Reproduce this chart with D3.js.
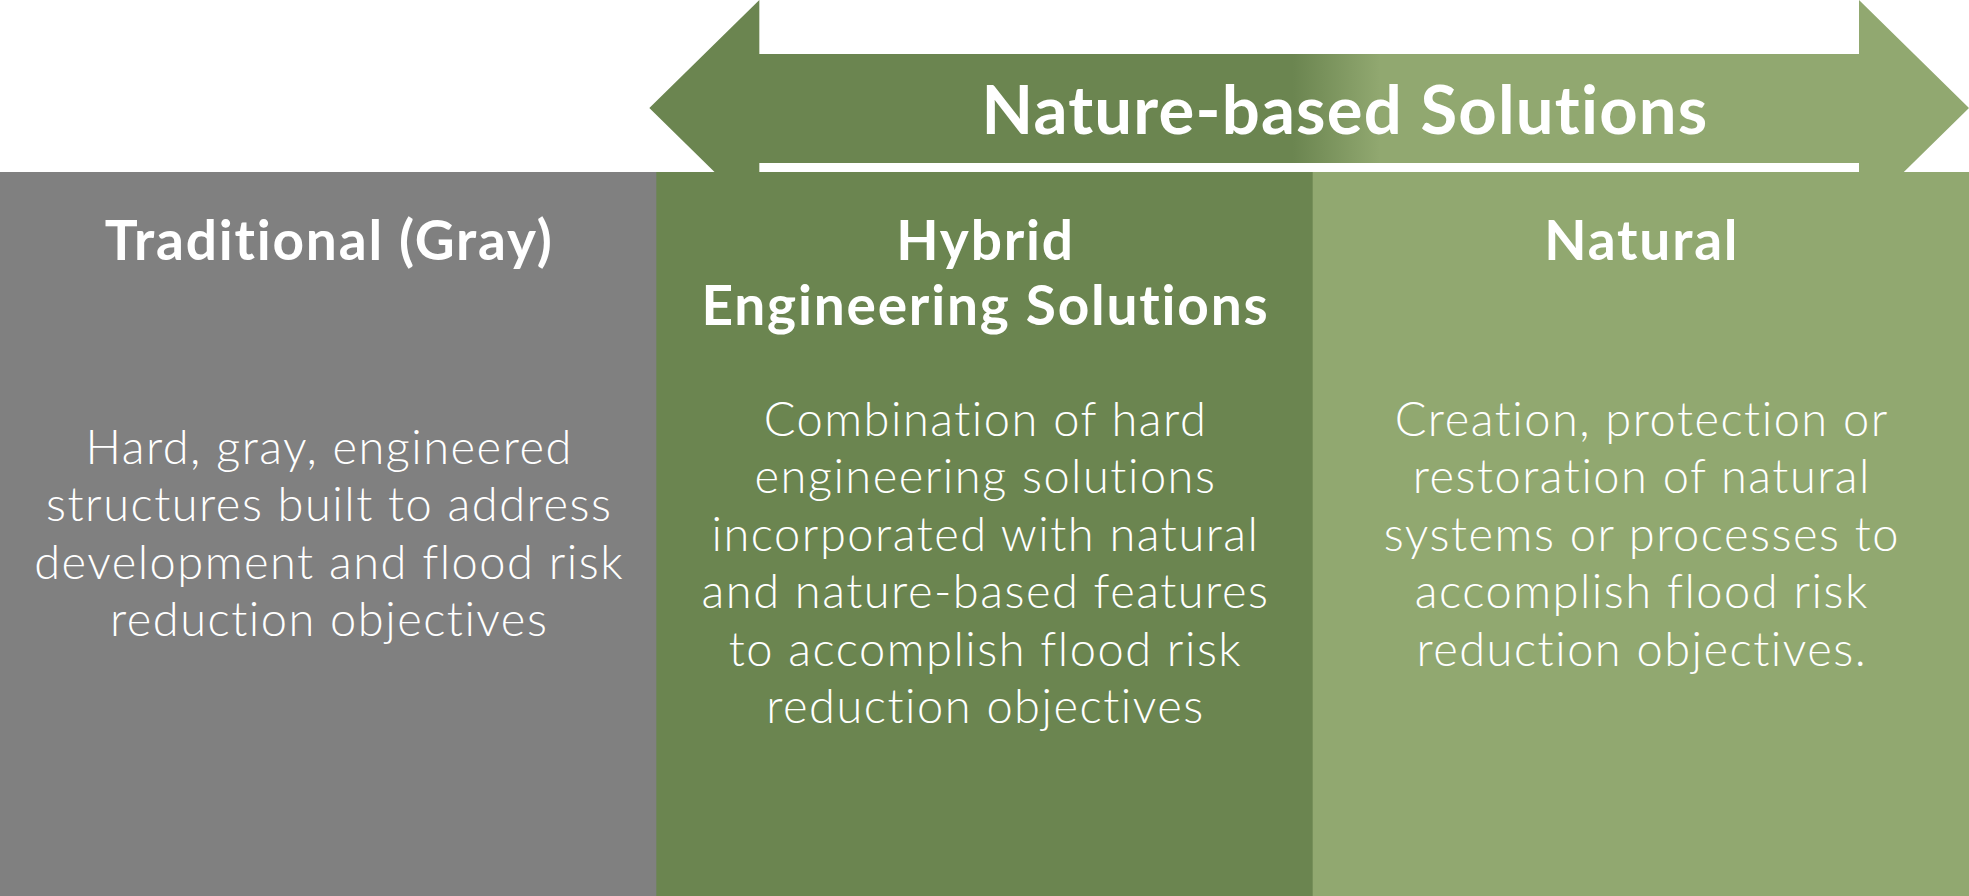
<!DOCTYPE html>
<html>
<head>
<meta charset="utf-8">
<script src="https://cdn.jsdelivr.net/npm/d3@7"></script>
<style>
    html, body { margin: 0; padding: 0; background: #fff; }
    svg { display: block; }
    text { font-variant-ligatures: none; }
</style>
</head>
<body>
<div id="chart"></div>
<script>
// Column categories, headers and body text
const categories = ["Traditional", "Hybrid", "Natural"];
const headers = [
    ["Traditional (Gray)"],
    ["Hybrid", "Engineering Solutions"],
    ["Natural"]
];
const descriptions = [
    ["Hard, gray, engineered", "structures built to address", "development and flood risk", "reduction objectives"],
    ["Combination of hard", "engineering solutions", "incorporated with natural", "and nature-based features", "to accomplish flood risk", "reduction objectives"],
    ["Creation, protection or", "restoration of natural", "systems or processes to", "accomplish flood risk", "reduction objectives."]
];
const colors = ["#808080", "#6b8550", "#91a870"];
const arrowLabel = "Nature-based Solutions";

const W = 1969, H = 896;
const colTop = 172;

const svg = d3.select("#chart")
    .append("svg")
    .attr("width", W)
    .attr("height", H);

const x = d3.scaleBand()
    .domain(categories)
    .range([0, W])
    .padding(0);

const color = d3.scaleOrdinal()
    .domain(categories)
    .range(colors);

// Gradient for the arrow (dark green -> light green)
const defs = svg.append("defs");
const grad = defs.append("linearGradient")
    .attr("id", "arrowGrad")
    .attr("gradientUnits", "userSpaceOnUse")
    .attr("x1", 1293).attr("y1", 0)
    .attr("x2", 1380).attr("y2", 0);
grad.append("stop").attr("offset", "0%").attr("stop-color", color("Hybrid"));
grad.append("stop").attr("offset", "100%").attr("stop-color", color("Natural"));

// Double-headed arrow
const headLen = 110, shaftTop = 54, shaftBot = 163, midY = 108;
const leftTip = x("Hybrid") - 7;
const rightTip = W;
const pts = [
    [leftTip, midY],
    [leftTip + headLen, 0],
    [leftTip + headLen, shaftTop],
    [rightTip - headLen, shaftTop],
    [rightTip - headLen, 0],
    [rightTip, midY],
    [rightTip - headLen, midY * 2],
    [rightTip - headLen, shaftBot],
    [leftTip + headLen, shaftBot],
    [leftTip + headLen, midY * 2]
];
svg.append("path")
    .attr("d", d3.line()(pts) + "Z")
    .attr("fill", "url(#arrowGrad)");

svg.append("text")
    .attr("x", 1345)
    .attr("y", 134)
    .attr("text-anchor", "middle")
    .attr("fill", "#fff")
    .attr("font-family", "Lato, 'Open Sans', sans-serif")
    .attr("font-weight", 700)
    .attr("font-size", "67px")
    .attr("letter-spacing", "1.2px")
    .text(arrowLabel);

// Columns
const col = svg.append("g")
    .selectAll("g")
    .data(categories)
    .enter().append("g")
    .attr("transform", d => `translate(${x(d)},0)`);

col.append("rect")
    .attr("x", 0)
    .attr("y", colTop)
    .attr("width", x.bandwidth() + 1)
    .attr("height", H - colTop)
    .attr("fill", d => color(d));

// Headers
col.append("text")
    .attr("text-anchor", "middle")
    .attr("fill", "#fff")
    .attr("font-family", "Lato, 'Open Sans', sans-serif")
    .attr("font-weight", 700)
    .attr("font-size", "55px")
    .attr("letter-spacing", "1.8px")
    .selectAll("tspan")
    .data((d, i) => headers[i])
    .enter().append("tspan")
    .attr("x", x.bandwidth() / 2 + 1)
    .attr("y", (d, i) => 260 + i * 65)
    .text(d => d);

// Descriptions
const bodyStart = { Traditional: 464, Hybrid: 436, Natural: 436 };
col.append("text")
    .attr("text-anchor", "middle")
    .attr("fill", "#fff")
    .attr("font-family", "Lato, 'Open Sans', sans-serif")
    .attr("font-weight", 300)
    .attr("font-size", "47px")
    .attr("letter-spacing", "1.5px")
    .each(function(d, i) {
        d3.select(this).selectAll("tspan")
            .data(descriptions[i])
            .enter().append("tspan")
            .attr("x", x.bandwidth() / 2 + 1)
            .attr("y", (t, j) => bodyStart[d] + j * 57.4)
            .text(t => t);
    });
</script>
</body>
</html>
